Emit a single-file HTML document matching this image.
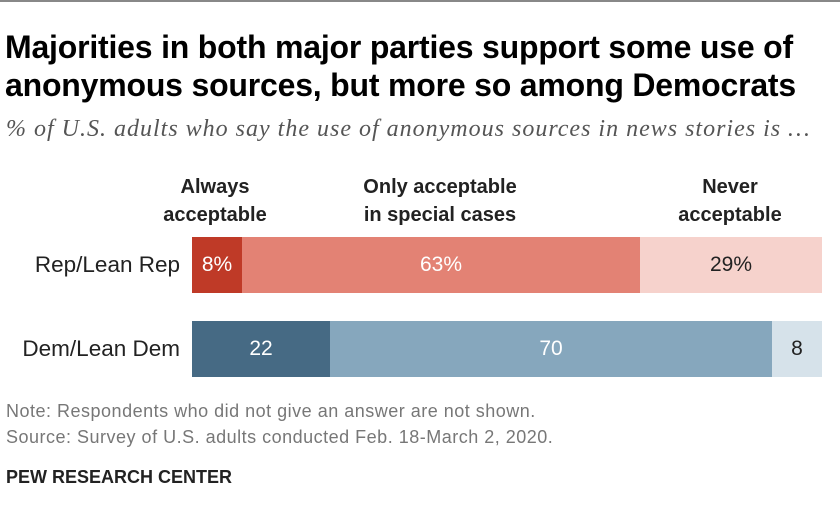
<!DOCTYPE html>
<html><head><style>
body{margin:0;width:840px;height:525px;background:#fff;font-family:"Liberation Sans",sans-serif;position:relative;overflow:hidden}
div{position:absolute;white-space:nowrap}
.t{left:5px;top:28px;font-size:32px;font-weight:bold;line-height:38px;color:#000;letter-spacing:-0.2px}
.sub{left:6px;top:116px;font-family:"Liberation Serif",serif;font-style:italic;font-size:24px;letter-spacing:1px;color:#555}
.h{font-weight:bold;font-size:20px;text-align:center;line-height:28px;color:#222}
.lab{font-size:22.5px;color:#222;text-align:right;width:180px;left:0}
.b{height:56px;color:#fff;font-size:21px;display:flex;align-items:center;justify-content:center}
.n{left:6px;font-size:18px;letter-spacing:0.5px;color:#777}
</style></head><body>
<div style="left:0;top:0;width:840px;height:2px;background:#888"></div>
<div class="t">Majorities in both major parties support some use of<br>anonymous sources, but more so among Democrats</div>
<div class="sub">% of U.S. adults who say the use of anonymous sources in news stories is …</div>
<div class="h" style="left:140px;top:173px;width:150px">Always<br>acceptable</div>
<div class="h" style="left:320px;top:173px;width:240px">Only acceptable<br>in special cases</div>
<div class="h" style="left:670px;top:173px;width:120px">Never<br>acceptable</div>
<div class="lab" style="top:252px">Rep/Lean Rep</div>
<div class="lab" style="top:336px">Dem/Lean Dem</div>
<div class="b" style="left:192px;top:237px;width:50px;background:#bf3a27">8%</div>
<div class="b" style="left:242px;top:237px;width:398px;background:#e38274">63%</div>
<div class="b" style="left:640px;top:237px;width:182px;background:#f6d2cc;color:#222">29%</div>
<div class="b" style="left:192px;top:321px;width:138px;background:#466a84">22</div>
<div class="b" style="left:330px;top:321px;width:442px;background:#86a7bd">70</div>
<div class="b" style="left:772px;top:321px;width:50px;background:#d6e2ea;color:#222">8</div>
<div class="n" style="top:401px">Note: Respondents who did not give an answer are not shown.</div>
<div class="n" style="top:427px">Source: Survey of U.S. adults conducted Feb. 18-March 2, 2020.</div>
<div style="left:6px;top:467px;font-size:18px;font-weight:bold;color:#222">PEW RESEARCH CENTER</div>
</body></html>
